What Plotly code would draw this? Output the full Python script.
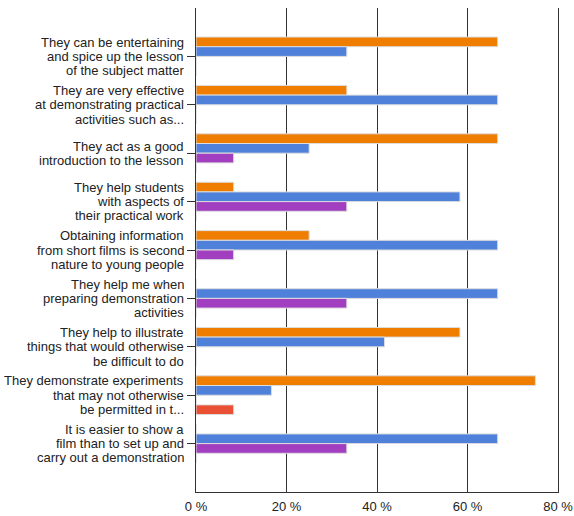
import plotly.graph_objects as go

# Survey statements (y categories), top to bottom; "<br>" marks line breaks
statements = [
    "They can be entertaining<br>and spice up the lesson<br>of the subject matter",
    "They are very effective<br>at demonstrating practical<br>activities such as...",
    "They act as a good<br>introduction to the lesson",
    "They help students<br>with aspects of<br>their practical work",
    "Obtaining information<br>from short films is second<br>nature to young people",
    "They help me when<br>preparing demonstration<br>activities",
    "They help to illustrate<br>things that would otherwise<br>be difficult to do",
    "They demonstrate experiments<br>that may not otherwise<br>be permitted in t...",
    "It is easier to show a<br>film than to set up and<br>carry out a demonstration",
]

# Percent of respondents per series
orange_vals = [66.67, 33.33, 66.67, 8.33, 25.0, 0, 58.33, 75.0, 0]
blue_vals = [33.33, 66.67, 25.0, 58.33, 66.67, 66.67, 41.67, 16.67, 66.67]
purple_vals = [0, 0, 8.33, 33.33, 8.33, 33.33, 0, 0, 33.33]
red_vals = [0, 0, 0, 0, 0, 0, 0, 8.33, 0]

x_ticks = [0, 20, 40, 60, 80]
x_tick_labels = ["0 %", "20 %", "40 %", "60 %", "80 %"]

series = [
    ("Orange", orange_vals, "#EE7D00"),
    ("Blue", blue_vals, "#4F80DA"),
    ("Purple", purple_vals, "#A23FC0"),
    ("Red", red_vals, "#EA5034"),
]

font_family = "Liberation Sans, Arial, sans-serif"
text_color = "#222222"
axis_color = "#333333"
label_size = 13
line_step = 14.3  # pixel spacing between wrapped label lines

fig = go.Figure()
for name, vals, color in series:
    fig.add_trace(go.Bar(
        name=name,
        y=statements,
        x=vals,
        orientation="h",
        marker=dict(color=color, line=dict(color="#DDDDDD", width=1)),
        hoverinfo="x",
    ))

# Category labels: one right-aligned text line each, tightly stacked around the tick
annotations = []
for cat in statements:
    lines = cat.split("<br>")
    mid = (len(lines) - 1) / 2
    for i, line in enumerate(lines):
        annotations.append(dict(
            text=line,
            xref="paper", x=0, xanchor="right", xshift=-10,
            yref="y", y=cat, yanchor="middle", yshift=(mid - i) * line_step,
            showarrow=False,
            font=dict(family=font_family, size=label_size, color=text_color),
        ))

fig.update_layout(
    width=574,
    height=516,
    margin=dict(l=196, r=16, t=8, b=24),
    paper_bgcolor="white",
    plot_bgcolor="white",
    barmode="group",
    bargap=0.2,
    bargroupgap=0,
    showlegend=False,
    font=dict(family=font_family, size=label_size, color=text_color),
    annotations=annotations,
    xaxis=dict(
        range=[0, 80],
        tickvals=x_ticks,
        ticktext=x_tick_labels,
        showgrid=True,
        gridcolor=axis_color,
        gridwidth=1,
        zeroline=False,
        showline=True,
        linecolor=axis_color,
        linewidth=1,
        ticks="",
        ticklabelstandoff=2,
        automargin=False,
        fixedrange=True,
    ),
    yaxis=dict(
        type="category",
        categoryorder="array",
        categoryarray=statements,
        range=[len(statements), -1],
        showgrid=False,
        zeroline=False,
        showline=True,
        mirror=True,
        linecolor=axis_color,
        linewidth=1,
        ticks="outside",
        ticklen=8,
        tickcolor=axis_color,
        showticklabels=False,
        automargin=False,
        fixedrange=True,
    ),
    shapes=[
        # end caps of the category axis
        dict(type="line", xref="x", yref="y domain", xsizemode="pixel", xanchor=0,
             x0=-8, x1=0, y0=1, y1=1, line=dict(color=axis_color, width=1)),
        dict(type="line", xref="x", yref="y domain", xsizemode="pixel", xanchor=0,
             x0=-8, x1=0, y0=0, y1=0, line=dict(color=axis_color, width=1)),
    ],
)

fig.write_html("out.html")
